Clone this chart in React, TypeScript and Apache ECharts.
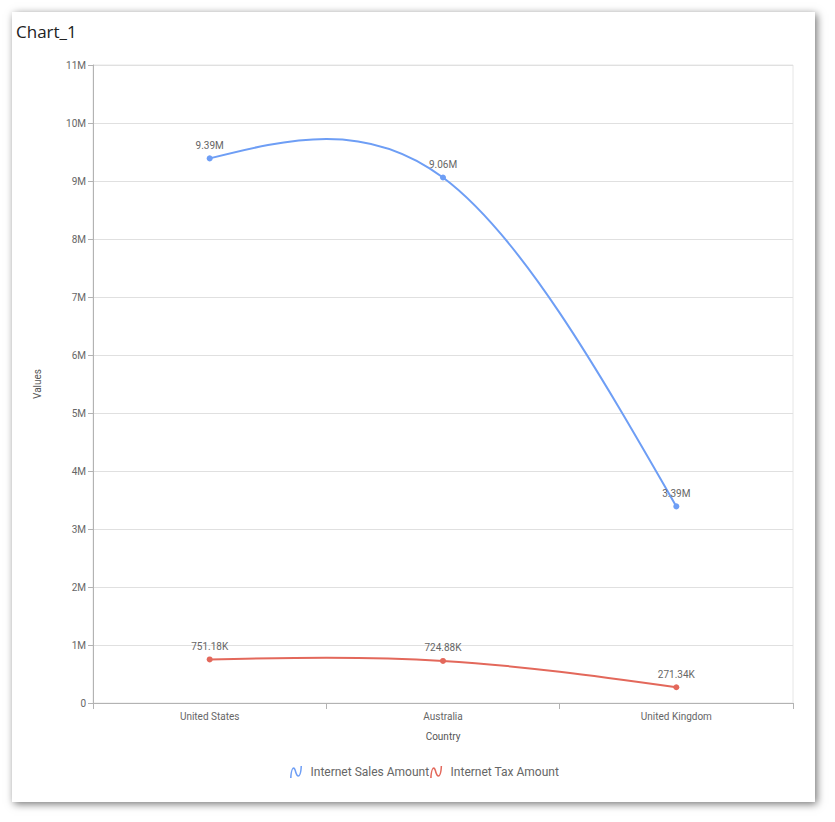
import React, { useEffect, useRef } from "react";
import * as echarts from "echarts";

const countries = ["United States", "Australia", "United Kingdom"];
const salesAmount = [9390000, 9060000, 3390000];
const taxAmount = [751180, 724880, 271340];
const seriesNames = ["Internet Sales Amount", "Internet Tax Amount"];
const seriesColors = ["#6E9EF5", "#E3685B"];

const fmtLabel = (v: number) =>
  v >= 1e6 ? (v / 1e6).toFixed(2) + "M" : (v / 1e3).toFixed(2) + "K";
const fmtAxis = (v: number) => (v === 0 ? "0" : v / 1e6 + "M");

const splineIcon =
  "path://M0,12 C1,-1 5,-1 6.5,6 C8,11 10,11 10.5,0 L12,0 C11.5,13 7,13 5,6.5 C4,1 2,1 1.6,12 Z";

// natural cubic spline second derivatives (uniform spacing, in index units)
function naturalM(p: number[]): number[] {
  const n = p.length;
  const M = new Array(n).fill(0);
  if (n < 3) return M;
  const m = n - 2;
  const a: number[] = [], b: number[] = [], c: number[] = [], d: number[] = [];
  for (let i = 0; i < m; i++) {
    a.push(1);
    b.push(4);
    c.push(1);
    d.push(6 * (p[i] - 2 * p[i + 1] + p[i + 2]));
  }
  for (let i = 1; i < m; i++) {
    const w = a[i] / b[i - 1];
    b[i] -= w * c[i - 1];
    d[i] -= w * d[i - 1];
  }
  const x = new Array(m).fill(0);
  x[m - 1] = d[m - 1] / b[m - 1];
  for (let i = m - 2; i >= 0; i--) x[i] = (d[i] - c[i] * x[i + 1]) / b[i];
  for (let i = 0; i < m; i++) M[i + 1] = x[i];
  return M;
}

function splineSeries(name: string, values: number[], color: string) {
  return {
    name,
    type: "custom",
    data: values.map((v, i) => [i, v]),
    silent: true,
    z: 1,
    renderItem: (params: any, api: any) => {
      const i = params.dataIndex;
      if (i >= values.length - 1) return null;
      const pts = values.map((v, k) => api.coord([k, v]));
      const ys = pts.map((p: number[]) => p[1]);
      const M = naturalM(ys);
      const dy = ys[i + 1] - ys[i];
      const d0 = dy - (2 * M[i] + M[i + 1]) / 6;
      const d1 = dy + (M[i] + 2 * M[i + 1]) / 6;
      const dx = pts[i + 1][0] - pts[i][0];
      return {
        type: "bezierCurve",
        shape: {
          x1: pts[i][0],
          y1: ys[i],
          cpx1: pts[i][0] + dx / 3,
          cpy1: ys[i] + d0 / 3,
          cpx2: pts[i + 1][0] - dx / 3,
          cpy2: ys[i + 1] - d1 / 3,
          x2: pts[i + 1][0],
          y2: ys[i + 1],
        },
        style: { stroke: color, lineWidth: 2, fill: null },
      };
    },
  };
}

export default function App() {
  const ref = useRef<HTMLDivElement>(null);
  useEffect(() => {
    if (!ref.current) return;
    const chart = echarts.init(ref.current, undefined, { renderer: "svg" });
    const labelStyle = {
      show: true,
      position: "top" as const,
      distance: 5,
      color: "#666",
      fontSize: 10,
      fontFamily: "Roboto",
      formatter: (p: any) => fmtLabel(p.value),
    };
    const pointSeries = (name: string, values: number[], color: string) => ({
      name,
      type: "line",
      data: values,
      symbol: "circle",
      symbolSize: 6,
      showAllSymbol: true,
      color,
      z: 3,
      lineStyle: { width: 0, opacity: 0 },
      label: labelStyle,
    });
    chart.setOption({
      animation: false,
      title: {
        text: "Chart_1",
        left: -1,
        top: 6,
        textStyle: { fontSize: 17, fontWeight: "normal", color: "#222", fontFamily: "Open Sans" },
      },
      legend: {
        left: 273,
        top: 749,
        itemWidth: 13,
        itemHeight: 12,
        itemGap: 1,
        icon: splineIcon,
        textStyle: { color: "#666", fontSize: 12, fontFamily: "Roboto", padding: [0, 0, 0, 3] },
        data: seriesNames,
      },
      grid: {
        left: 81,
        top: 53,
        right: 22,
        bottom: 99,
        show: true,
        borderColor: "#e6e6e6",
        borderWidth: 1,
      },
      xAxis: {
        type: "category",
        data: countries,
        boundaryGap: true,
        name: "Country",
        nameLocation: "middle",
        nameGap: 28,
        nameTextStyle: { color: "#555", fontSize: 10, fontFamily: "Roboto" },
        axisLine: { lineStyle: { color: "#b3b3b3" } },
        axisTick: { show: true, length: 6, lineStyle: { color: "#b3b3b3" } },
        axisLabel: { color: "#666", fontSize: 10, fontFamily: "Roboto", margin: 8 },
        splitLine: { show: false },
      },
      yAxis: {
        type: "value",
        min: 0,
        max: 11000000,
        interval: 1000000,
        name: "Values",
        nameLocation: "middle",
        nameGap: 51,
        nameTextStyle: { color: "#555", fontSize: 10, fontFamily: "Roboto" },
        axisLine: { show: true, lineStyle: { color: "#b3b3b3" } },
        axisTick: { show: true, length: 5, lineStyle: { color: "#b3b3b3" } },
        axisLabel: { color: "#666", fontSize: 10, fontFamily: "Roboto", margin: 7, formatter: fmtAxis },
        splitLine: { lineStyle: { color: "#e0e0e0" } },
      },
      series: [
        pointSeries(seriesNames[0], salesAmount, seriesColors[0]),
        pointSeries(seriesNames[1], taxAmount, seriesColors[1]),
        splineSeries(seriesNames[0], salesAmount, seriesColors[0]),
        splineSeries(seriesNames[1], taxAmount, seriesColors[1]),
      ],
    });
    return () => chart.dispose();
  }, []);
  return (
    <div
      style={{
        position: "absolute",
        left: 12,
        top: 12,
        width: 803,
        height: 790,
        background: "#fff",
        boxShadow: "2px 2px 8px rgba(0,0,0,0.55)",
      }}
    >
      <div ref={ref} style={{ width: 803, height: 790 }} />
    </div>
  );
}
